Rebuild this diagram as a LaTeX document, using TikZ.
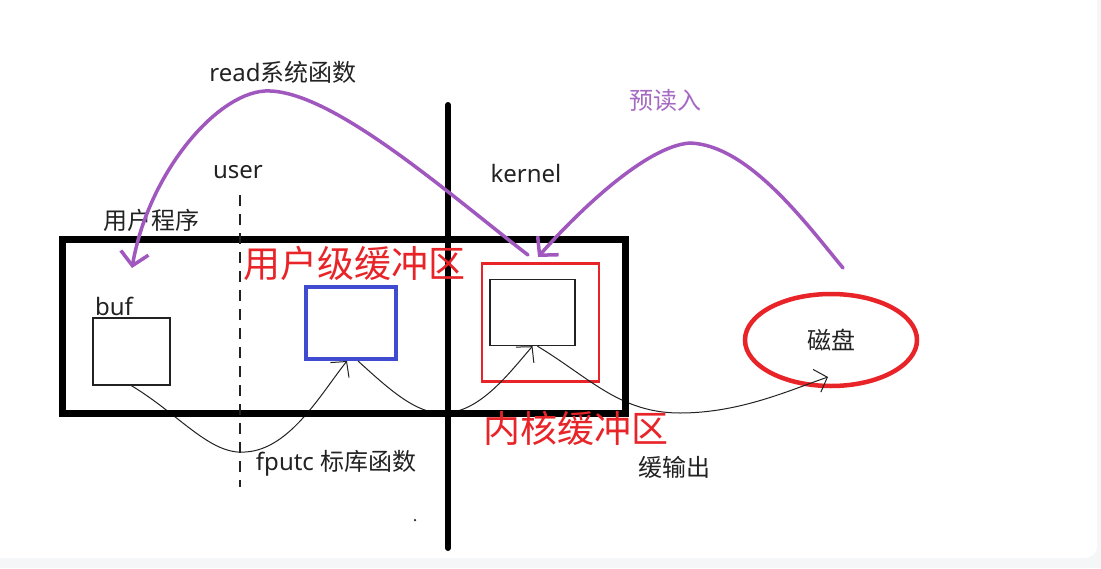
\documentclass[tikz,border=0pt]{standalone}
\usepackage{fontspec}
\setmainfont{Noto Sans}
\newfontfamily\cjk{Noto Sans CJK SC}
\usetikzlibrary{arrows.meta,shapes.geometric}
\definecolor{pur}{RGB}{160,88,190}
\definecolor{ptxt}{RGB}{165,105,195}
\definecolor{rd}{RGB}{232,36,40}
\definecolor{bl}{RGB}{64,76,208}
\definecolor{bg}{RGB}{245,246,248}
\definecolor{ink}{RGB}{34,34,34}
\begin{document}
\begin{tikzpicture}[x=1pt,y=-1pt,
 lbl/.style={inner sep=0pt, font=\fontsize{24}{28}\selectfont, text=ink},
 cjklbl/.style={inner sep=0pt, font=\cjk\fontsize{24}{28}\selectfont, text=ink},
 big/.style={inner sep=0pt, font=\cjk\fontsize{37}{41}\selectfont, text=rd},
 box/.style={draw=ink, line width=1.4pt, inner sep=0pt},
 pcurve/.style={draw=pur, line width=3.5pt, line cap=round, -{Straight Barb[length=13pt,width=28pt,line width=3.5pt]}},
 tcurve/.style={draw=ink, line width=1pt, -{Straight Barb[length=11pt,width=24pt,line width=1pt]}},
]
\useasboundingbox (0,0) rectangle (1101,568);
\clip (0,0) rectangle (1101,568);
\fill[bg] (0,0) rectangle (1101,568);
\fill[white, rounded corners=12pt] (-20,-20) rectangle (1097,558);

% boxes
\node[box, minimum width=77pt, minimum height=67pt] (buf) at (131.5,351.5) {};
\node[draw=bl, line width=4pt, minimum width=90pt, minimum height=72pt, inner sep=0pt] (ubuf) at (351,323) {};
\node[box, minimum width=85pt, minimum height=66pt] (kbuf) at (532.5,312.5) {};
\node[draw=rd, line width=2.5pt, minimum width=117pt, minimum height=118pt, inner sep=0pt] (kred) at (540.5,322.5) {};
\node[ellipse, draw=rd, line width=4.5pt, minimum width=172pt, minimum height=92pt, cjklbl] (disk) at (831,340) {磁盘};

% thin black curves
\coordinate (outE) at (828,377);
\draw[tcurve] (buf.south) .. controls (180,415) and (210,455) .. (245,452) .. controls (290,450) and (322,392) .. ([xshift=-4pt]ubuf.south);
\draw[tcurve] ([xshift=7pt]ubuf.south) .. controls (390,390) and (418,416) .. (447,413) .. controls (482,410) and (510,372) .. (kbuf.south);
\draw[tcurve] ([xshift=5pt]kbuf.south) .. controls (590,378) and (620,413) .. (680,413) .. controls (740,413) and (790,390) .. (outE);

% frame and separators
\node[draw=black, line width=7pt, minimum width=563pt, minimum height=174pt, inner sep=0pt] (proc) at (343.5,326) {};
\coordinate (vtop) at (448,105);
\coordinate (vbot) at (448,548);
\draw[line width=6pt, line cap=round] (vtop) -- (vbot);
\coordinate (dtop) at (240,195);
\coordinate (dbot) at (240,487);
\draw[ink, line width=1.3pt, dash pattern=on 11pt off 8pt] (dtop) -- (dbot);

% texts
\node[lbl] (tread) at (283,72) {read{\cjk 系统函数}};
\node[lbl] (tuser) at (238,172) {user};
\node[lbl] (tkern) at (526,173) {kernel};
\node[cjklbl] (tprog) at (151,220) {用户程序};
\node[lbl] (tbuf) at (114,306) {buf};
\node[big] (tubuf) at (354,263) {用户级缓冲区};
\node[cjklbl, text=ptxt] (tpre) at (665,100) {预读入};
\node[lbl] (tfput) at (336,463) {fputc\kern6pt{\cjk 标库函数}};
\node[big] (tkbuf) at (576,428) {内核缓冲区};
\node[cjklbl] (tslow) at (674,467) {缓输出};
\node[circle, fill=ink, inner sep=0pt, minimum size=2.5pt] (dot) at (415,520) {};

% purple curves
\coordinate (rdS) at (528,255);
\coordinate (rdE) at (132,268);
\draw[pcurve] (rdS) .. controls (450,195) and (330,88) .. (265,91) .. controls (215,94) and (148,175) .. (rdE);
\coordinate (prS) at (843,268);
\coordinate (prE) at (538,257);
\draw[pcurve] (prS) .. controls (805,222) and (748,145) .. (690,143) .. controls (645,146) and (575,215) .. (prE);
\end{tikzpicture}
\end{document}
